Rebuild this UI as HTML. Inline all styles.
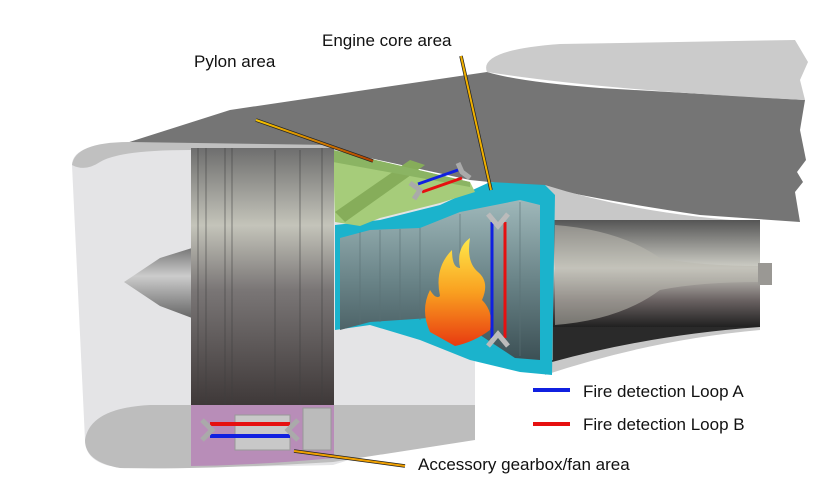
<!DOCTYPE html>
<html><head><meta charset="utf-8"><style>
html,body{margin:0;padding:0;background:#fff;}
svg{display:block;}
text{font-family:"Liberation Sans",sans-serif;font-size:17px;fill:#111;}
</style></head><body>
<svg width="825" height="489" viewBox="0 0 825 489" xmlns="http://www.w3.org/2000/svg">
<defs>
<linearGradient id="fan" x1="0" y1="0" x2="0" y2="1">
<stop offset="0" stop-color="#6e6e6e"/><stop offset="0.3" stop-color="#c4c4ba"/><stop offset="0.55" stop-color="#7a7676"/><stop offset="1" stop-color="#3e3838"/></linearGradient>
<linearGradient id="core" x1="0" y1="0" x2="0" y2="1">
<stop offset="0" stop-color="#9fb8ba"/><stop offset="0.5" stop-color="#6a8488"/><stop offset="1" stop-color="#3c5055"/></linearGradient>
<linearGradient id="exh" x1="0" y1="0" x2="0" y2="1">
<stop offset="0" stop-color="#555"/><stop offset="0.45" stop-color="#d0d0c8"/><stop offset="0.75" stop-color="#6a6262"/><stop offset="1" stop-color="#202020"/></linearGradient>
<linearGradient id="cone" x1="0" y1="0" x2="0" y2="1">
<stop offset="0" stop-color="#777"/><stop offset="0.4" stop-color="#ccc"/><stop offset="1" stop-color="#666"/></linearGradient>
<linearGradient id="fire" x1="0" y1="0" x2="0" y2="1">
<stop offset="0" stop-color="#ffe94a"/><stop offset="0.5" stop-color="#f9a020"/><stop offset="1" stop-color="#e83a10"/></linearGradient>
<linearGradient id="lead" x1="0" y1="0" x2="1" y2="0">
<stop offset="0" stop-color="#f5c400"/><stop offset="1" stop-color="#b04000"/></linearGradient>
</defs>
<!-- pylon -->
<path d="M120 145 L230 110 L487 72 Q520 82 600 88 L805 100 L800 130 L806 160 L797 172 L803 182 L795 192 L800 222 L700 215 Q600 200 548 188 L470 180 L333 150 Z" fill="#757575"/>
<path d="M487 72 Q478 50 560 44 L795 40 L808 62 L800 80 L805 100 Q600 90 487 72 Z" fill="#cbcbcb"/>
<!-- nacelle body -->
<path d="M72 165 Q72 145 120 143 L333 148 L475 190 L475 420 L333 465 Q200 468 110 466 Q85 460 85 440 Z" fill="#e4e4e6"/>
<path d="M72 165 Q75 142 130 142 L333 145 L333 150 L190 150 Q120 150 100 162 Q85 172 72 165 Z" fill="#c0c0c0"/>
<path d="M85 440 Q90 408 150 405 L475 405 L475 440 L333 462 Q200 470 120 468 Q85 462 85 440Z" fill="#bdbdbd"/>
<!-- exhaust -->
<path d="M545 185 Q640 215 760 222 L760 330 Q650 340 545 375 Z" fill="#c8c8c8"/>
<rect x="552" y="220" width="208" height="107" fill="url(#exh)"/>
<path d="M552 327 L760 327 Q650 335 552 362 Z" fill="#2a2a2a"/>
<path d="M555 225 Q620 230 660 258 Q700 266 760 266 L760 282 Q700 282 660 290 Q620 320 555 325Z" fill="#b9b8ae" opacity="0.55"/>
<rect x="758" y="263" width="14" height="22" fill="#9a9894"/>
<rect x="540" y="205" width="13" height="155" fill="#8a8580"/>
<!-- cyan -->
<path d="M335 225 L380 220 L440 205 L490 182 L545 185 L555 195 L552 375 L520 372 L470 360 L420 340 L370 325 L335 330 Z" fill="#1bb3cc"/>
<!-- core -->
<path d="M340 238 L370 230 L420 228 L460 212 L520 200 L540 205 L540 360 L515 358 L480 335 L430 318 L370 322 L340 330 Z" fill="url(#core)"/>
<g stroke="#5a7074" stroke-width="1" opacity="0.6">
<line x1="360" y1="232" x2="360" y2="325"/><line x1="380" y1="230" x2="380" y2="322"/><line x1="400" y1="229" x2="400" y2="320"/><line x1="420" y1="228" x2="420" y2="320"/><line x1="460" y1="214" x2="460" y2="330"/><line x1="520" y1="202" x2="520" y2="356"/></g>
<!-- green pylon area -->
<path d="M333 150 L470 182 L475 192 L440 203 L380 218 L360 226 L335 222 Z" fill="#a6cc7a"/>
<path d="M335 212 L410 160 L425 165 L345 222Z" fill="#86ad5a"/>
<path d="M333 150 L470 182 L470 187 L333 162Z" fill="#8bb463"/>
<!-- cone -->
<path d="M124 282 L160 258 L192 248 L192 318 L160 306 Z" fill="url(#cone)"/>
<!-- fan -->
<rect x="191" y="148" width="143" height="258" fill="url(#fan)"/>
<g stroke="#3e3e3e" stroke-width="1" opacity="0.55"><line x1="198" y1="148" x2="198" y2="405"/><line x1="206" y1="148" x2="206" y2="405"/><line x1="225" y1="148" x2="225" y2="405"/><line x1="232" y1="148" x2="232" y2="405"/><line x1="275" y1="150" x2="275" y2="405"/><line x1="300" y1="150" x2="300" y2="405"/><line x1="322" y1="148" x2="322" y2="405"/></g>
<!-- purple -->
<path d="M191 405 L334 405 L334 458 Q260 465 191 466 Z" fill="#b88db8"/>
<rect x="235" y="415" width="55" height="35" fill="#c8c8c8" stroke="#999"/>
<rect x="303" y="408" width="28" height="42" fill="#bbb" stroke="#999"/>
<line x1="210" y1="424" x2="290" y2="424" stroke="#e61010" stroke-width="4"/>
<line x1="210" y1="436" x2="290" y2="436" stroke="#1020e0" stroke-width="4"/>
<path d="M202 420 L212 430 L202 440" fill="none" stroke="#aaa" stroke-width="5"/>
<path d="M298 420 L288 430 L298 440" fill="none" stroke="#aaa" stroke-width="5"/>
<!-- pylon loop -->
<line x1="418" y1="184" x2="458" y2="170" stroke="#1020e0" stroke-width="3"/>
<line x1="422" y1="192" x2="462" y2="178" stroke="#e61010" stroke-width="3"/>
<path d="M410 183 L420 190 L414 199" fill="none" stroke="#aaa" stroke-width="5"/>
<path d="M458 163 L462 172 L470 178" fill="none" stroke="#aaa" stroke-width="5"/>
<!-- flame -->
<path d="M455 346 L430 332 Q420 310 430 290 Q436 300 440 296 Q434 268 452 250 Q452 268 460 268 Q456 248 470 238 Q466 262 478 272 Q490 282 482 300 Q494 312 490 330 Q474 342 455 346Z" fill="url(#fire)"/>
<!-- core loops -->
<line x1="492" y1="222" x2="492" y2="338" stroke="#1020e0" stroke-width="3"/>
<line x1="505" y1="222" x2="505" y2="338" stroke="#e61010" stroke-width="3"/>
<path d="M488 214 L498 226 L508 214" fill="none" stroke="#bbb" stroke-width="5"/>
<path d="M488 346 L498 334 L508 346" fill="none" stroke="#bbb" stroke-width="5"/>
<!-- leaders -->
<line x1="256" y1="120" x2="373" y2="161" stroke="#222" stroke-width="3.5"/><line x1="256" y1="120" x2="373" y2="161" stroke="url(#lead)" stroke-width="2"/>
<line x1="461" y1="56" x2="491" y2="190" stroke="#222" stroke-width="3.5"/><line x1="461" y1="56" x2="491" y2="190" stroke="#f0b000" stroke-width="2"/>
<line x1="294" y1="451" x2="405" y2="466" stroke="#222" stroke-width="3.5"/><line x1="294" y1="451" x2="405" y2="466" stroke="#f0a000" stroke-width="2"/>
<!-- legend -->
<line x1="533" y1="390" x2="570" y2="390" stroke="#1020e0" stroke-width="4"/>
<line x1="533" y1="424" x2="570" y2="424" stroke="#e61010" stroke-width="4"/>
<text x="583" y="397">Fire detection Loop A</text>
<text x="583" y="430">Fire detection Loop B</text>
<text x="194" y="67">Pylon area</text>
<text x="322" y="46">Engine core area</text>
<text x="418" y="470">Accessory gearbox/fan area</text>
</svg>
</body></html>
